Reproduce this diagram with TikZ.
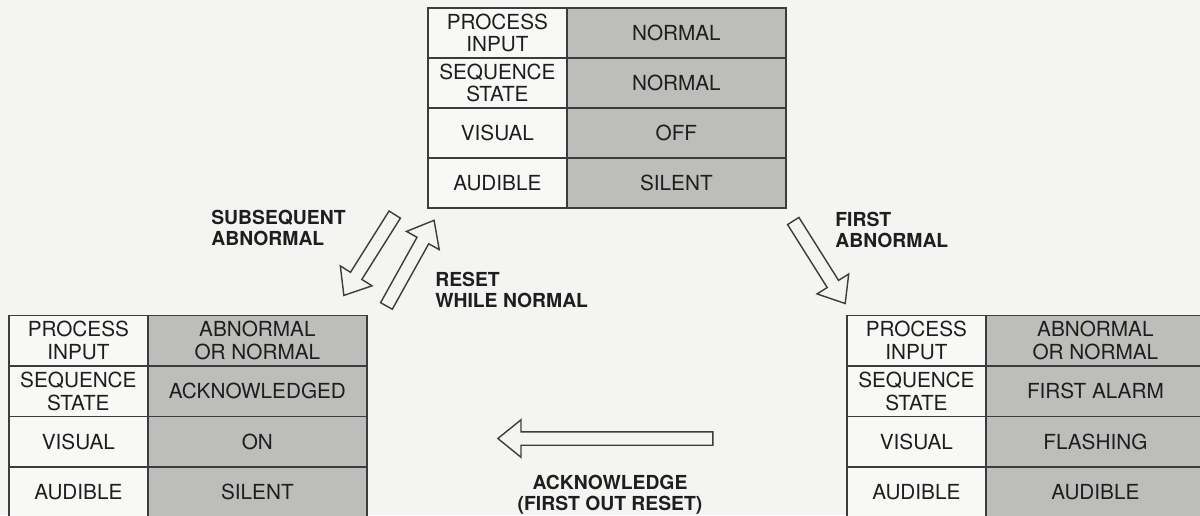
\documentclass[tikz,border=0pt]{standalone}
\usepackage{fontspec}
\setmainfont{TeX Gyre Heros}
\usepackage{xcolor}
\usepackage{tikz}
\usetikzlibrary{shapes.arrows,positioning}
\definecolor{paper}{HTML}{F4F4F2}
\definecolor{ink}{HTML}{1E1E1E}
\definecolor{rule}{HTML}{3C3C3C}
\definecolor{cellwhite}{HTML}{F8F8F6}
\definecolor{cellgrey}{HTML}{BDBDBB}

\begin{document}
\begin{tikzpicture}[
  cell/.style={draw=rule,line width=1pt,inner sep=0pt,anchor=north west,
               minimum height=1cm,align=center,text=ink,
               font=\fontsize{11.8}{13}\selectfont},
  lab/.style={cell,fill=cellwhite,minimum width=2.78cm},
  val/.style={cell,fill=cellgrey,minimum width=4.38cm},
  tr/.style={font=\fontsize{11}{11.8}\selectfont\bfseries,text=ink,
             inner sep=0pt,align=left},
  blk/.style={single arrow,draw=rule,line width=0.8pt,fill=paper,
              inner xsep=0pt,inner ysep=0.12cm,
              single arrow head extend=0.24cm,single arrow tip angle=78}]
\useasboundingbox (0,0) rectangle (24,-10.3);
\fill[paper] (0,0) rectangle (24,-10.3);
% normal
\foreach \lbl/\val [count=\i] in {PROCESS\\INPUT/NORMAL,SEQUENCE\\STATE/NORMAL,
    VISUAL/OFF,AUDIBLE/SILENT}{
  \node[lab] (n-l\i) at (8.54,{0.86-\i}) {\lbl};
  \node[val] (n-v\i) at (11.32,{0.86-\i}) {\val};
}
% acknowledged
\foreach \lbl/\val [count=\i] in {PROCESS\\INPUT/ABNORMAL\\OR NORMAL,
    SEQUENCE\\STATE/ACKNOWLEDGED,VISUAL/ON,AUDIBLE/SILENT}{
  \node[lab,minimum height=1.01cm] (k-l\i) at (0.16,{-5.28-1.01*\i}) {\lbl};
  \node[val,minimum height=1.01cm] (k-v\i) at (2.94,{-5.28-1.01*\i}) {\val};
}
% first alarm
\foreach \lbl/\val [count=\i] in {PROCESS\\INPUT/ABNORMAL\\OR NORMAL,
    SEQUENCE\\STATE/FIRST ALARM,VISUAL/FLASHING,AUDIBLE/AUDIBLE}{
  \node[lab,minimum height=1.01cm] (f-l\i) at (16.92,{-5.28-1.01*\i}) {\lbl};
  \node[val,minimum height=1.01cm] (f-v\i) at (19.70,{-5.28-1.01*\i}) {\val};
}
% transitions
\node[blk,minimum height=1.91cm,rotate=237.8] (subseq) at (7.43,-5.03) {};
\node[blk,minimum height=1.96cm,rotate=60.9] (reset) at (8.165,-5.335) {};
\node[blk,minimum height=1.95cm,rotate=-57.8] (first) at (16.34,-5.175) {};
\node[blk,minimum height=4.3cm,rotate=180] (ack) at (12.19,-8.77) {};
\node[tr,anchor=north west] (subseq-t) at (4.22,-4.2) {SUBSEQUENT\\ABNORMAL};
\node[tr,anchor=north west] (reset-t) at (8.7,-5.44) {RESET\\WHILE NORMAL};
\node[tr,anchor=north west] (first-t) at (16.7,-4.24) {FIRST\\ABNORMAL};
\node[tr,anchor=north,align=center] (ack-t) at (12.2,-9.5)
  {ACKNOWLEDGE\\(FIRST OUT RESET)};
\end{tikzpicture}
\end{document}
